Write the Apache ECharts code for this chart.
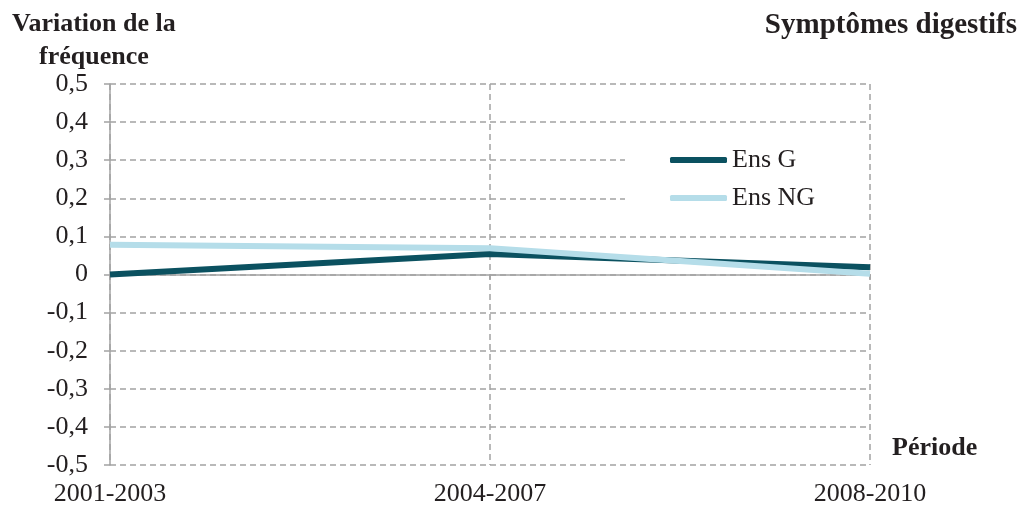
<!DOCTYPE html>
<html>
<head>
<meta charset="utf-8">
<script src="https://cdn.jsdelivr.net/npm/echarts@6/dist/echarts.min.js"></script>
<style>html,body{margin:0;padding:0;background:#fff}#c{width:1024px;height:508px}</style>
</head>
<body>
<div id="c"></div>
<script>
const categories = ['2001-2003', '2004-2007', '2008-2010'];
const ensG = [0.0, 0.054, 0.019];
const ensNG = [0.078, 0.069, 0.002];
const seriesNames = ['Ens G', 'Ens NG'];
const yTitle = 'Variation de la\nfréquence';
const xTitle = 'Période';
const chartTitle = 'Symptômes digestifs';

const FONT = '"Liberation Serif", "Times New Roman", serif';
const TXT = '#231f20';
const GRID = '#a3a3a3';
const C_G = '#0b5160';
const C_NG = '#b5dde9';

const chart = echarts.init(document.getElementById('c'), null, {renderer: 'canvas'});
chart.setOption({
  animation: false,
  backgroundColor: '#fff',
  grid: {left: 110, right: 154, top: 84, bottom: 43, containLabel: false},
  xAxis: [{
    type: 'category', data: categories, boundaryGap: false,
    position: 'bottom',
    axisLine: {show: false, onZero: false},
    axisTick: {show: false},
    axisLabel: {margin: 16, fontFamily: FONT, fontSize: 26, color: TXT},
    splitLine: {show: true, lineStyle: {color: GRID, width: 1.5, type: [6, 4]}}
  }, {
    type: 'category', data: categories, boundaryGap: false,
    position: 'bottom',
    axisLine: {show: true, onZero: true, onZeroAxisIndex: 0, lineStyle: {color: GRID, width: 1.5}},
    axisTick: {show: true, length: 5, lineStyle: {color: GRID, width: 1.5}},
    axisLabel: {show: false},
    splitLine: {show: false}
  }],
  yAxis: {
    type: 'value', min: -0.5, max: 0.5, interval: 0.1,
    axisLine: {show: true, lineStyle: {color: GRID, width: 1.5}},
    axisTick: {show: true, length: 6, lineStyle: {color: GRID, width: 1.5}},
    axisLabel: {margin: 22, fontFamily: FONT, fontSize: 26, color: TXT,
      formatter: v => (Math.round(v * 10) / 10).toString().replace('.', ',')},
    splitLine: {show: true, lineStyle: {color: GRID, width: 1.5, type: [6, 4]}}
  },
  legend: {
    orient: 'vertical', left: 625, top: 140,
    padding: [7, 53, 7, 45],
    backgroundColor: '#fff',
    itemWidth: 57, itemHeight: 6, itemGap: 12,
    icon: 'roundRect',
    textStyle: {fontFamily: FONT, fontSize: 26, color: TXT, lineHeight: 26},
    data: [
      {name: seriesNames[0], icon: 'roundRect', itemStyle: {color: C_G}},
      {name: seriesNames[1], icon: 'roundRect', itemStyle: {color: C_NG}}
    ]
  },
  series: [{
    name: seriesNames[0], type: 'line', data: ensG, symbol: 'none',
    lineStyle: {color: C_G, width: 6}, itemStyle: {color: C_G}
  }, {
    name: seriesNames[1], type: 'line', data: ensNG, symbol: 'none',
    lineStyle: {color: C_NG, width: 6}, itemStyle: {color: C_NG}
  }],
  graphic: [{
    type: 'text', left: 12, top: 8,
    style: {text: yTitle, font: 'bold 26px ' + FONT, fill: TXT, textAlign: 'center', lineHeight: 33, x: 83}
  }, {
    type: 'text', right: 7, top: 11,
    style: {text: chartTitle, font: 'bold 29px ' + FONT, fill: TXT}
  }, {
    type: 'text', left: 892, top: 435,
    style: {text: xTitle, font: 'bold 26px ' + FONT, fill: TXT}
  }]
});
</script>
</body>
</html>
